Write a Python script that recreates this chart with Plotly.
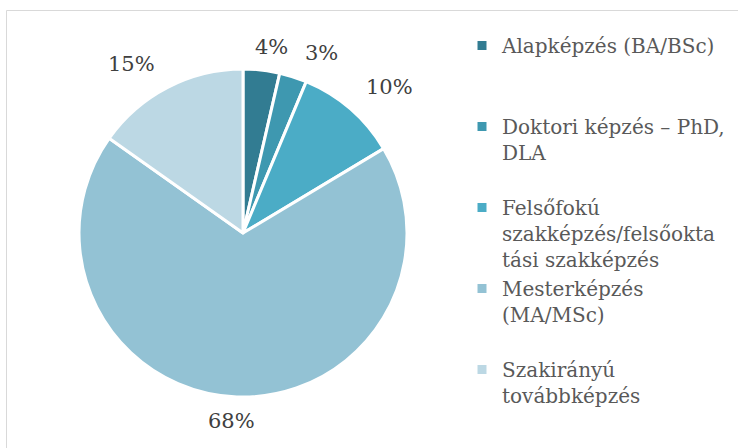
import math
import plotly.graph_objects as go

# ---- data ----
categories = [
    "Alapképzés (BA/BSc)",
    "Doktori képzés – PhD,<br>DLA",
    "Felsőfokú<br>szakképzés/felsőokta<br>tási szakképzés",
    "Mesterképzés<br>(MA/MSc)",
    "Szakirányú<br>továbbképzés",
]
shares = [3.6, 2.7, 10.1, 68.4, 15.2]
pct_labels = ["4%", "3%", "10%", "68%", "15%"]
colors = ["#327C92", "#3E98B0", "#4BACC6", "#93C2D4", "#BCD8E4"]

W, H = 738, 448
# pie geometry in pixels (layout)
cx, cy, R = 243, 233, 164

# pad legend entries so each occupies a similar block height
pad = ["<br>&nbsp;<br>&nbsp;", "<br>&nbsp;", "", "<br>&nbsp;", ""]
legend_text = [c + p for c, p in zip(categories, pad)]

fig = go.Figure(go.Pie(
    labels=legend_text,
    values=shares,
    sort=False,
    direction="clockwise",
    rotation=0,
    marker=dict(colors=colors, line=dict(color="white", width=3)),
    textinfo="none",
    hoverinfo="skip",
    domain=dict(x=[(cx - R) / W, (cx + R) / W],
                y=[(H - cy - R) / H, (H - cy + R) / H]),
))

# percent labels positioned from cumulative angles
total = sum(shares)
nudge = [2.3, 5.9, 4.1, 1.4, -6.0]
dist = [1.146, 1.197, 1.26, 1.148, 1.234]
ann = []
cum = 0
for v, t, n, d in zip(shares, pct_labels, nudge, dist):
    mid = (cum + v / 2) / total * 360 + n
    cum += v
    a = math.radians(mid)
    px = cx + d * R * math.sin(a)
    py = cy - d * R * math.cos(a)
    ann.append(dict(x=px / W, y=1 - py / H, xref="paper", yref="paper",
                    xanchor="center", yanchor="middle",
                    text=t, showarrow=False,
                    font=dict(family="DejaVu Serif", size=21, color="#404040")))

fig.update_layout(
    width=W, height=H,
    margin=dict(l=0, r=0, t=0, b=0),
    paper_bgcolor="white",
    annotations=ann,
    showlegend=True,
    legend=dict(
        x=462 / W, y=1 - 26 / H, xanchor="left", yanchor="top",
        font=dict(family="DejaVu Serif", size=20, color="#595959"),
        valign="top", tracegroupgap=0, itemclick=False,
    ),
    shapes=[dict(type="rect", xref="paper", yref="paper",
                 x0=6.5 / W, x1=1.2, y0=-0.2, y1=1 - 10.5 / H,
                 line=dict(color="#D9D9D9", width=1))],
)

fig.write_html("out.html", config={"displayModeBar": False},
               post_script="document.body.style.margin='0';")
